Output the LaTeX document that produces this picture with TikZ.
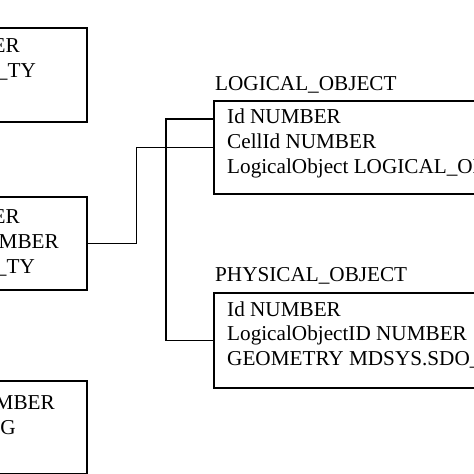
\documentclass[tikz,border=0pt]{standalone}
\usepackage{fontspec}
\setmainfont{Liberation Serif}
\begin{document}
\begin{tikzpicture}[x=1pt,y=1pt,
  tbl/.style={draw=black, line width=1.6pt, rectangle, inner sep=0pt, anchor=north west},
  txt/.style={inner sep=0pt, font=\fontsize{21.2}{25}\selectfont},
  link/.style={draw=black, line width=1.5pt}]
\useasboundingbox (0,0) rectangle (474,-474);
\fill[white] (0,0) rectangle (474,-474);
% left tables (cut by the page edge)
\node[tbl, minimum width=106pt, minimum height=94pt] (t1) at (-20,-27) {};
\node[tbl, minimum width=106pt, minimum height=93pt] (t2) at (-20,-196) {};
\node[tbl, minimum width=106pt, minimum height=93pt] (t3) at (-20,-380) {};
% right tables
\node[tbl, minimum width=280pt, minimum height=93pt] (lo) at (213,-100) {};
\node[tbl, minimum width=280pt, minimum height=95pt] (po) at (213,-292) {};
% left texts
\node[txt, anchor=base east] (a1) at (20,-52) {Id NUMBER};
\node[txt, anchor=base east] (a2) at (36,-77) {Type CELL\_TY};
\node[txt, anchor=base east] (b1) at (20,-223) {Id NUMBER};
\node[txt, anchor=base east] (b2) at (59,-248) {CellId NUMBER};
\node[txt, anchor=base east] (b3) at (35,-273) {Cell CELL\_TY};
\node[txt, anchor=base east] (c1) at (55,-409) {Id NUMBER};
\node[txt, anchor=base east] (c2) at (16,-434) {Name STRING};
% right texts
\node[txt, anchor=base west] (lt) at (215,-90) {LOGICAL\_OBJECT};
\node[txt, anchor=base west] (l1) at (227,-123) {Id NUMBER};
\node[txt, anchor=base west] (l2) at (227,-148) {CellId NUMBER};
\node[txt, anchor=base west] (l3) at (227,-173) {LogicalObject LOGICAL\_OBJECT\_TY};
\node[txt, anchor=base west] (pt) at (215,-281) {PHYSICAL\_OBJECT};
\node[txt, anchor=base west] (p1) at (227,-316) {Id NUMBER};
\node[txt, anchor=base west] (p2) at (227,-340.5) {LogicalObjectID NUMBER};
\node[txt, anchor=base west] (p3) at (227,-365) {GEOMETRY MDSYS.SDO\_GEOMETRY};
% connectors
\coordinate (lid) at ([yshift=28.5pt]lo.west);
\draw[link] (t2.east) -- ++(49,0) |- (lo.west);
\draw[link] (lid) -- ++(-47,0) |- (po.west);
\end{tikzpicture}
\end{document}
